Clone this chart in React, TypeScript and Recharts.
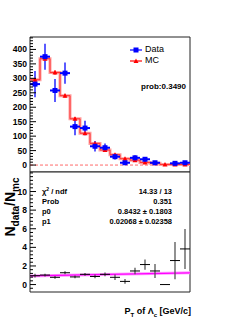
import React from "react";
import {
  ComposedChart,
  Line,
  Scatter,
  ErrorBar,
  XAxis,
  YAxis,
  ReferenceLine,
  ReferenceArea,
} from "recharts";

// bin centres in pT [GeV/c]
const binCenters = [4.5, 5.5, 6.5, 7.5, 8.5, 9.5, 10.5, 11.5, 12.5, 13.5, 14.5, 15.5, 16.5, 17.5, 18.5, 19.5];
const binEdges = [4, 5, 6, 7, 8, 9, 10, 11, 12, 13, 14, 15, 16, 17, 18, 19, 20];

const dataCounts = [280, 375, 258, 318, 133, 128, 65, 60, 29, 8, 25, 20, 8, null, 6, 8];
const dataErrs = [45, 45, 40, 37, 30, 25, 18, 15, 10, 6, 9, 8, 6, null, 5, 6];
const mcCounts = [295, 368, 320, 240, 160, 110, 75, 52, 36, 22, 17, 9, 6, 2, 2, 2];
const mcErrs = [8, 9, 8, 7, 6, 5, 4, 3, 3, 2, 2, 2, 1, 1, 1, 1];

const ratioVals = [0.95, 1.02, 0.78, 1.27, 0.82, 1.1, 0.87, 1.1, 0.78, 0.34, 1.46, 2.15, 1.46, 0.0, 2.58, 3.83];
const ratioErrs = [0.2, 0.15, 0.15, 0.15, 0.15, 0.15, 0.2, 0.2, 0.3, 0.25, 0.35, 0.55, 0.75, 0, 2.0, 2.15];

// linear fit p0 + p1*x, read at the two ends
const fitX = [4, 20];
const fitY = [0.93, 1.26];

const xMajor = [4, 6, 8, 10, 12, 14, 16, 18, 20];
const topMajor = [0, 50, 100, 150, 200, 250, 300, 350, 400];
const botMajor = [0, 2, 4, 6, 8, 10];

const minorTicks = (lo: number, hi: number, step: number) => {
  const out: number[] = [];
  for (let v = lo; v <= hi + 1e-9; v += step) out.push(Math.round(v * 100) / 100);
  return out;
};
const xTicks = minorTicks(4, 20, 0.5);
const topTicks = minorTicks(0, 440, 10);
const botTicks = minorTicks(-0.4, 12, 0.4);

const isMajor = (list: number[], v: number) => list.some((m) => Math.abs(m - v) < 1e-6);

const font = "'Liberation Sans', Arial, Helvetica, sans-serif";

const dataPts = binCenters
  .map((x, i) => ({ x, y: dataCounts[i], ye: dataErrs[i], xe: 0.5 }))
  .filter((p) => p.y !== null);
const mcPts = binCenters.map((x, i) => ({ x, y: mcCounts[i], ye: mcErrs[i] }));
const mcStep = binEdges.map((x, i) => ({ x, y: mcCounts[Math.min(i, mcCounts.length - 1)] }));
const ratioPts = binCenters.map((x, i) => ({ x, y: ratioVals[i], ye: ratioErrs[i], xe: 0.5 }));
const fitPts = fitX.map((x, i) => ({ x, y: fitY[i] }));

const YTick = (props: any) => {
  const { x, y, payload, majors } = props;
  const major = isMajor(majors, payload.value);
  const ax = x + 3;
  return (
    <g>
      <line x1={ax} x2={ax + (major ? 6 : 3)} y1={y} y2={y} stroke="#000" strokeWidth={1} />
      {major && (
        <text x={x} y={y} dy={3} textAnchor="end" fontSize={8.5} fontWeight="bold" fontFamily={font} fill="#000">
          {payload.value}
        </text>
      )}
    </g>
  );
};

const XTick = (props: any) => {
  const { x, y, payload, showLabel } = props;
  const major = isMajor(xMajor, payload.value);
  return (
    <g>
      <line x1={x} x2={x} y1={y} y2={y - (major ? 5 : 3)} stroke="#000" strokeWidth={1} />
      <line x1={x} x2={x} y1={y} y2={y + (major ? 4 : 2)} stroke="#000" strokeWidth={1} />
      {showLabel && major && (
        <text x={x} y={y + 7} dy={0} textAnchor="middle" fontSize={8.5} fontWeight="bold" fontFamily={font} fill="#000">
          {payload.value}
        </text>
      )}
    </g>
  );
};

const Square = (props: any) => {
  const { cx, cy } = props;
  if (cx == null || cy == null) return <g />;
  return <rect x={cx - 2.5} y={cy - 2.5} width={5} height={5} fill="#0000ff" />;
};

const Tri = (props: any) => {
  const { cx, cy } = props;
  if (cx == null || cy == null) return <g />;
  return <polygon points={`${cx},${cy - 2.5} ${cx + 2.5},${cy + 2} ${cx - 2.5},${cy + 2}`} fill="#ff0000" />;
};

const Nothing = () => <g />;

const stat = { position: "absolute" as const, fontFamily: font, fontWeight: "bold" as const, fontSize: 7.5, lineHeight: "10px", whiteSpace: "nowrap" as const };

export default function App() {
  return (
    <div style={{ position: "fixed", left: 0, top: 0, width: 249, height: 322, background: "#fff", fontFamily: font }}>
      {/* upper panel: Data vs MC */}
      <div style={{ position: "absolute", left: 0, top: 0 }}>
        <ComposedChart width={249} height={172} margin={{ top: 37, right: 59, left: 0, bottom: 0 }}>
          <XAxis
            type="number"
            dataKey="x"
            domain={[4, 20]}
            ticks={xTicks}
            interval={0}
            height={0}
            tickSize={0}
            tickMargin={0}
            axisLine={false}
            tickLine={false}
            tick={<XTick showLabel={false} />}
            allowDataOverflow
          />
          <YAxis
            type="number"
            domain={[-24, 443]}
            ticks={topTicks}
            interval={0}
            width={30}
            tickSize={0}
            tickMargin={3}
            axisLine={false}
            tickLine={false}
            tick={<YTick majors={topMajor} />}
            allowDataOverflow
          />
          <ReferenceLine y={0} stroke="#ff6b6b" strokeDasharray="3 2" strokeWidth={1} />
          <Line data={mcStep} dataKey="y" type="stepAfter" stroke="#ff9d9d" strokeWidth={3} dot={false} isAnimationActive={false} />
          <Line data={mcStep} dataKey="y" type="stepAfter" stroke="#ff3030" strokeWidth={1} dot={false} isAnimationActive={false} />
          <Scatter data={mcPts} dataKey="y" shape={<Tri />} isAnimationActive={false}>
            <ErrorBar dataKey="ye" direction="y" width={0} stroke="#ff0000" strokeWidth={1} />
          </Scatter>
          <Scatter data={dataPts} dataKey="y" shape={<Square />} isAnimationActive={false}>
            <ErrorBar dataKey="ye" direction="y" width={0} stroke="#5a5aff" strokeWidth={2} />
            <ErrorBar dataKey="xe" direction="x" width={0} stroke="#0000ff" strokeWidth={2} />
          </Scatter>
          <ReferenceArea x1={4} x2={20} y1={-24} y2={443} fill="none" stroke="#222" strokeWidth={1} ifOverflow="visible" />
        </ComposedChart>
      </div>

      {/* lower panel: ratio */}
      <div style={{ position: "absolute", left: 0, top: 0 }}>
        <ComposedChart width={249} height={322} margin={{ top: 172, right: 59, left: 0, bottom: 30 }}>
          <XAxis
            type="number"
            dataKey="x"
            domain={[4, 20]}
            ticks={xTicks}
            interval={0}
            height={0}
            tickSize={0}
            tickMargin={0}
            axisLine={false}
            tickLine={false}
            tick={<XTick showLabel />}
            allowDataOverflow
          />
          <YAxis
            type="number"
            domain={[-0.8, 12.1]}
            ticks={botTicks}
            interval={0}
            width={30}
            tickSize={0}
            tickMargin={3}
            axisLine={false}
            tickLine={false}
            tick={<YTick majors={botMajor} />}
            allowDataOverflow
          />
          <Line data={fitPts} dataKey="y" type="linear" stroke="#ff9cff" strokeWidth={3} dot={false} isAnimationActive={false} />
          <Line data={fitPts} dataKey="y" type="linear" stroke="#ff00ff" strokeWidth={1.2} dot={false} isAnimationActive={false} />
          <Scatter data={ratioPts} dataKey="y" shape={<Nothing />} isAnimationActive={false}>
            <ErrorBar dataKey="ye" direction="y" width={0} stroke="#555" strokeWidth={1.3} />
            <ErrorBar dataKey="xe" direction="x" width={0} stroke="#000" strokeWidth={1} />
          </Scatter>
          <ReferenceArea x1={4} x2={20} y1={-0.8} y2={12.1} fill="none" stroke="#222" strokeWidth={1} ifOverflow="visible" />
        </ComposedChart>
      </div>

      {/* legend */}
      <div style={{ position: "absolute", left: 129, top: 44, fontSize: 9, lineHeight: "11px", fontFamily: font }}>
        {[
          { name: "Data", color: "#0000ff", marker: "sq" },
          { name: "MC", color: "#ff0000", marker: "tri" },
        ].map((e) => (
          <div key={e.name} style={{ display: "flex", alignItems: "center", height: 11 }}>
            <svg width={14} height={8}>
              <line x1={1} x2={13} y1={4} y2={4} stroke={e.color} strokeWidth={1.2} />
              {e.marker === "sq" ? (
                <rect x={4.5} y={1.5} width={5} height={5} fill={e.color} />
              ) : (
                <polygon points="7,1.5 9.5,6 4.5,6" fill={e.color} />
              )}
            </svg>
            <span style={{ marginLeft: 2 }}>{e.name}</span>
          </div>
        ))}
      </div>
      <div style={{ ...stat, fontSize: 8, right: 249 - 186, top: 82 }}>prob:0.3490</div>

      {/* fit statistics */}
      <div style={{ ...stat, left: 42, top: 187 }}>
        <div>
          χ<sup style={{ fontSize: 5, verticalAlign: "3px", lineHeight: 0 }}>2</sup> / ndf
        </div>
        <div>Prob</div>
        <div>p0</div>
        <div>p1</div>
      </div>
      <div style={{ ...stat, right: 249 - 172, top: 187, textAlign: "right" }}>
        <div>14.33 / 13</div>
        <div>0.351</div>
        <div>0.8432 ± 0.1803</div>
        <div>0.02068 ± 0.02358</div>
      </div>

      {/* axis titles */}
      <div style={{ position: "absolute", right: 249 - 191, top: 306, fontSize: 9, fontWeight: "bold", fontFamily: font, whiteSpace: "nowrap" }}>
        P<sub style={{ fontSize: 6, lineHeight: 0 }}>T</sub> of Λ<sub style={{ fontSize: 6, lineHeight: 0 }}>c</sub> [GeV/c]
      </div>
      <div
        style={{
          position: "absolute",
          left: 10,
          top: 207,
          transform: "translate(-50%, -50%) rotate(-90deg)",
          fontSize: 14,
          fontWeight: "bold",
          fontFamily: font,
          whiteSpace: "nowrap",
        }}
      >
        N<sub style={{ fontSize: 10, lineHeight: 0 }}>data</sub>/N<sub style={{ fontSize: 10, lineHeight: 0 }}>mc</sub>
      </div>
    </div>
  );
}
